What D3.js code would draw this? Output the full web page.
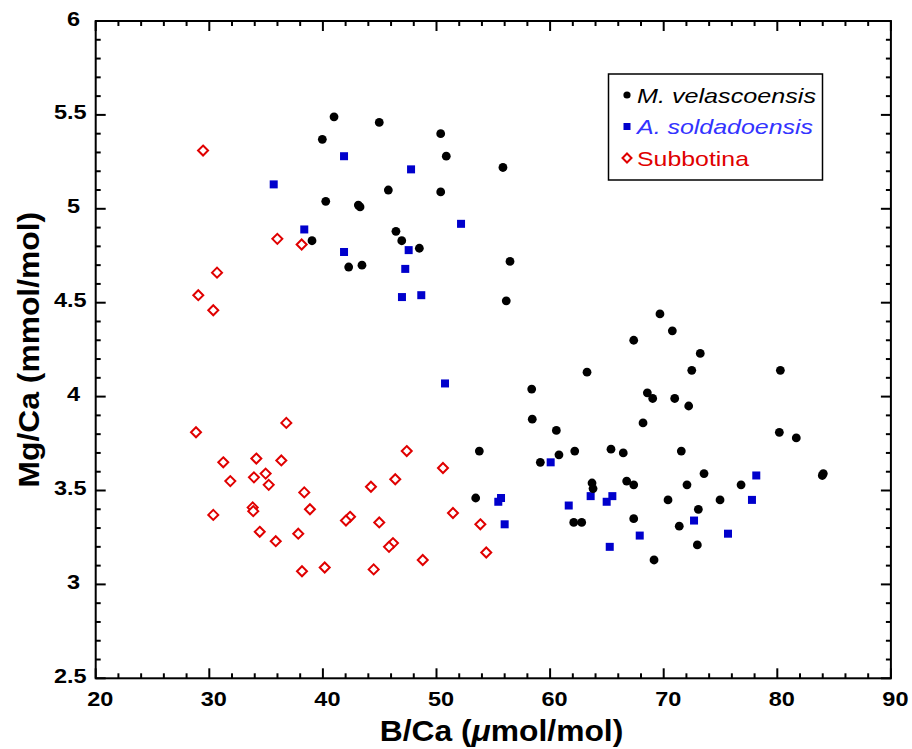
<!DOCTYPE html>
<html><head><meta charset="utf-8">
<script src="https://cdn.jsdelivr.net/npm/d3@7"></script>
<style>body{margin:0;background:#fff}svg{display:block}</style>
</head><body>
<svg id="c" width="912" height="749"></svg>
<script>
// M. velascoensis
const velX = [40.98,44.96,39.95,50.37,50.86,55.85,45.76,50.37,40.25,43.12,43.27,46.43,46.94,48.49,39.04,42.27,43.44,56.47,56.14,
 69.67,70.76,67.36,73.22,72.47,80.27,63.25,58.38,68.56,69.03,70.97,72.20,58.43,68.18,60.55,80.18,81.67,53.77,65.36,66.44,71.55,62.17,60.78,59.14,73.55,84.05,83.96,63.69,63.78,66.74,67.36,72.05,76.81,70.38,74.96,73.05,62.08,62.78,67.36,71.37,72.96,69.15,53.45];
const velY = [5.49,5.46,5.37,5.40,5.28,5.22,5.10,5.09,5.04,5.02,5.01,4.88,4.83,4.79,4.83,4.69,4.70,4.72,4.51,
 4.44,4.35,4.30,4.23,4.14,4.14,4.13,4.04,4.02,3.99,3.99,3.95,3.88,3.86,3.82,3.81,3.78,3.71,3.72,3.70,3.71,3.71,3.69,3.65,3.59,3.59,3.58,3.54,3.51,3.55,3.53,3.53,3.53,3.45,3.45,3.40,3.33,3.33,3.35,3.31,3.21,3.13,3.46];
// A. soldadoensis
const solX = [35.67,38.36,41.86,47.76,52.16,41.86,47.55,47.25,46.96,48.66,50.75,60.05,55.68,55.44,56.0,61.64,63.57,65.48,64.98,65.25,67.89,72.67,75.66,78.15,77.77];
const solY = [5.13,4.89,5.28,5.21,4.92,4.77,4.78,4.68,4.53,4.54,4.07,3.65,3.46,3.44,3.32,3.42,3.47,3.47,3.44,3.20,3.26,3.34,3.27,3.58,3.45];
// Subbotina
const subX = [29.45,35.99,38.13,30.68,29.03,30.35,28.83,36.78,31.23,34.14,36.34,31.85,33.93,34.96,35.23,38.36,38.86,33.82,33.87,30.35,34.44,35.85,37.83,38.16,40.16,
 47.38,50.57,46.37,44.23,42.39,42.03,44.96,51.45,53.86,46.17,45.82,48.79,44.47,54.38];
const subY = [5.31,4.84,4.81,4.66,4.54,4.46,3.81,3.86,3.65,3.67,3.66,3.55,3.57,3.59,3.53,3.49,3.40,3.41,3.39,3.37,3.28,3.23,3.27,3.07,3.09,
 3.71,3.62,3.56,3.52,3.36,3.34,3.33,3.38,3.32,3.22,3.20,3.13,3.08,3.17];

const xTicks = [20,30,40,50,60,70,80,90];
const yTicks = [2.5,3,3.5,4,4.5,5,5.5,6];
const legendLabels = ["M. velascoensis","A. soldadoensis","Subbotina"];

const svg = d3.select("#c");
const L = 95.7, R = 890.9, T = 21, B = 678.3;
const x = d3.scaleLinear().domain([20,90]).range([L,R]);
const y = d3.scaleLinear().domain([2.5,6]).range([B,T]);
const font = "Arial, 'Liberation Sans', sans-serif";

// frame
svg.append("rect").attr("x",L).attr("y",T).attr("width",R-L).attr("height",B-T)
  .attr("fill","none").attr("stroke","#000").attr("stroke-width",2);

const xMinor = d3.range(20,90.01,2);
const yMinor = d3.range(2.5,6.001,0.1);
const g = svg.append("g").attr("stroke","#000").attr("stroke-width",2);
xMinor.forEach(v=>{
  const major = Math.abs(v/10-Math.round(v/10))<1e-6;
  const len = major?10:5;
  g.append("line").attr("x1",x(v)).attr("x2",x(v)).attr("y1",B).attr("y2",B-len);
  g.append("line").attr("x1",x(v)).attr("x2",x(v)).attr("y1",T).attr("y2",T+len);
});
yMinor.forEach(v=>{
  const major = Math.abs(v*2-Math.round(v*2))<1e-6;
  const len = major?10:5;
  g.append("line").attr("y1",y(v)).attr("y2",y(v)).attr("x1",L).attr("x2",L+len);
  g.append("line").attr("y1",y(v)).attr("y2",y(v)).attr("x1",R).attr("x2",R-len);
});

// stretched text helper
function stext(parent, tx, ty, sx, size, anchor, txt){
  return parent.append("text")
    .attr("transform",`translate(${tx},${ty}) scale(${sx},1)`)
    .attr("text-anchor",anchor).attr("font-family",font).attr("font-weight","bold")
    .attr("font-size",size).text(txt);
}
// tick labels
const gx = svg.append("g");
xTicks.forEach(d=>stext(gx, x(d)+4.5, 706, 1.12, 21, "middle", d));
const gy = svg.append("g");
yTicks.forEach(d=>{
  const right = Number.isInteger(d) ? 80 : 86.7;
  stext(gy, right, y(d)+4.5, 1.12, 21, "end", d);
});

// axis titles
const xt = svg.append("text").attr("transform","translate(501.5,741) scale(1.06,1)").attr("text-anchor","middle")
  .attr("font-family",font).attr("font-weight","bold").attr("font-size",30);
xt.append("tspan").text("B/Ca (");
xt.append("tspan").attr("font-style","italic").text("μ");
xt.append("tspan").text("mol/mol)");
svg.append("text").attr("transform",`translate(39,${(T+B)/2}) rotate(-90) scale(1.06,1)`).attr("text-anchor","middle")
  .attr("font-family",font).attr("font-weight","bold").attr("font-size",30).text("Mg/Ca (mmol/mol)");

// data
const vel = velX.map((d,i)=>[d,velY[i]]);
const sol = solX.map((d,i)=>[d,solY[i]]);
const sub = subX.map((d,i)=>[d,subY[i]]);
svg.append("g").selectAll("path").data(sub).join("path")
  .attr("d",d=>{const cx=x(d[0]),cy=y(d[1]),r=5;return `M${cx},${cy-r}L${cx+r},${cy}L${cx},${cy+r}L${cx-r},${cy}Z`;})
  .attr("fill","#fff").attr("stroke","#e00000").attr("stroke-width",2);
svg.append("g").selectAll("rect").data(sol).join("rect")
  .attr("x",d=>x(d[0])-4).attr("y",d=>y(d[1])-4).attr("width",8).attr("height",8).attr("fill","#0000cc");
svg.append("g").selectAll("circle").data(vel).join("circle")
  .attr("cx",d=>x(d[0])).attr("cy",d=>y(d[1])).attr("r",4.4).attr("fill","#000");

// legend
svg.append("rect").attr("x",608.5).attr("y",74).attr("width",214).attr("height",106)
  .attr("fill","#fff").attr("stroke","#000").attr("stroke-width",1.5);
const ly = [95,126.5,158];
svg.append("circle").attr("cx",627).attr("cy",ly[0]).attr("r",3.6).attr("fill","#000");
svg.append("rect").attr("x",623.5).attr("y",ly[1]-3.5).attr("width",7).attr("height",7).attr("fill","#0000cc");
svg.append("path").attr("d",`M627,${ly[2]-4.5}L631.5,${ly[2]}L627,${ly[2]+4.5}L622.5,${ly[2]}Z`)
  .attr("fill","#fff").attr("stroke","#e00000").attr("stroke-width",2);
const lc = ["#000","#3333ff","#e00000"];
const ls = ["italic","italic","normal"];
const lw = [179,176,112];
legendLabels.forEach((t,i)=>{
  svg.append("text").attr("x",637).attr("y",ly[i]+7.5).attr("font-family",font)
    .attr("font-size",21).attr("font-style",ls[i]).attr("fill",lc[i])
    .attr("textLength",lw[i]).attr("lengthAdjust","spacingAndGlyphs").text(t);
});
</script>
</body></html>
